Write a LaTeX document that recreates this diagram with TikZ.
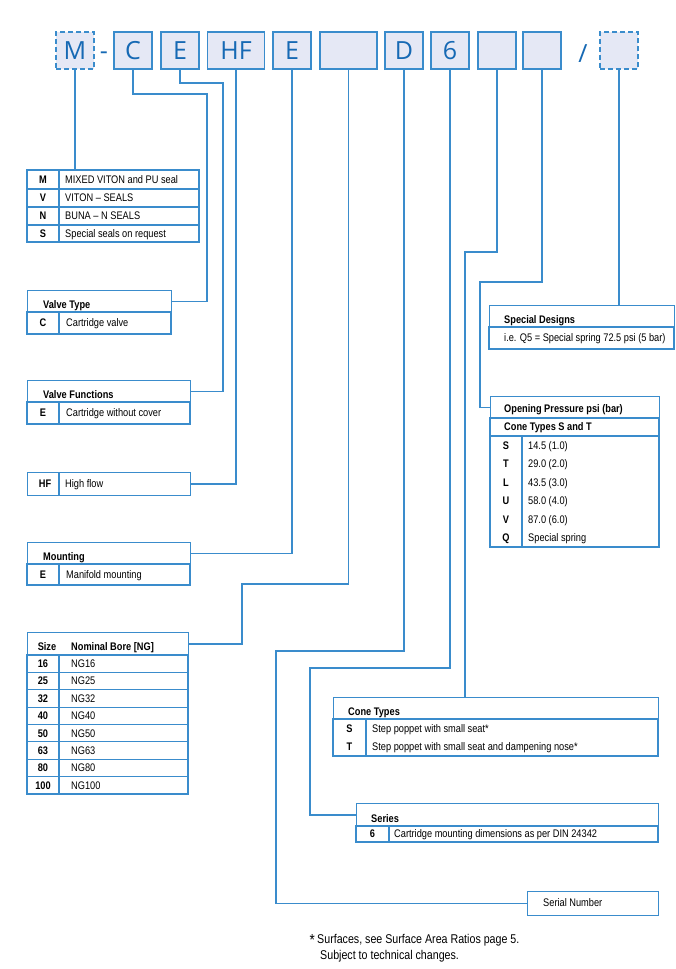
\documentclass[tikz,border=0pt]{standalone}
\usepackage{fontspec}
\setmainfont{Liberation Sans}
\newfontfamily\tabf[FakeStretch=0.84]{Liberation Sans}
\newfontfamily\codef{Open Sans}
\definecolor{lineblue}{RGB}{58,140,204}
\definecolor{boxfill}{RGB}{229,232,245}
\definecolor{codeblue}{RGB}{22,105,180}
\tikzset{
 conn/.style={draw=lineblue, line width=1.3pt},
 tab/.style={draw=lineblue, line width=1.2pt},
 code/.style={draw=lineblue, fill=boxfill, line width=1.1pt, minimum width=38pt, minimum height=37pt, inner sep=0pt, text=codeblue, font=\codef\fontsize{25}{25}\selectfont},
 codewide/.style={code, minimum width=57pt},
 codedash/.style={code, dash pattern=on 5pt off 3pt},
 codesep/.style={inner sep=0pt, anchor=base, text=codeblue, font=\codef\fontsize{25}{25}\selectfont},
 tabframe/.style={draw=lineblue, line width=1.2pt, inner sep=0pt, anchor=north west},
 keytxt/.style={inner sep=0pt, anchor=base, font=\tabf\bfseries\fontsize{11}{12}\selectfont},
 valtxt/.style={inner sep=0pt, anchor=base west, font=\tabf\fontsize{11}{12}\selectfont},
 hdrtxt/.style={inner sep=0pt, anchor=base west, font=\tabf\bfseries\fontsize{11}{12}\selectfont},
 foot/.style={inner sep=0pt, anchor=base west, font=\tabf\fontsize{12.7}{14}\selectfont},
}
\newcommand\trow[9]{%
 \draw[tab] (#2,#5) rectangle (#4,#6) (#3,#5) -- (#3,#6);
 \node[keytxt] (#1k) at ({(#2+#3)/2},{(#5+#6)/2+3.9}) {#7};
 \node[valtxt] (#1v) at (#9,{(#5+#6)/2+3.9}) {#8};}
\begin{document}
\begin{tikzpicture}[x=1pt,y=-1pt]
\fill[white] (0,0) rectangle (675,969);
\useasboundingbox (0,0) rectangle (675,969);

% code boxes
\node[codedash] (mB) at (75,50.5) {M};
\node[codesep] (hy) at (104,59.5) {-};
\node[code] (cB) at (133,50.5) {C};
\node[code] (eB) at (180,50.5) {E};
\node[codewide] (hfB) at (236,50.5) {HF};
\node[code] (e2B) at (292,50.5) {E};
\node[codewide] (bl1B) at (348.5,50.5) {};
\node[code] (dB) at (404,50.5) {D};
\node[code] (sixB) at (450,50.5) {6};
\node[code] (bl2B) at (497,50.5) {};
\node[code] (bl3B) at (542,50.5) {};
\node[codesep] (sl) at (583,62) {/};
\node[codedash] (dsB) at (619,50.5) {};

% seals
\node[tabframe, minimum width=172pt, minimum height=72pt] (seals) at (27,170) {};
\trow{sM}{27}{59}{199}{170}{189}{M}{MIXED VITON and PU seal}{65}
\trow{sV}{27}{59}{199}{189}{207}{V}{VITON – SEALS}{65}
\trow{sN}{27}{59}{199}{207}{225}{N}{BUNA – N SEALS}{65}
\trow{sS}{27}{59}{199}{225}{242}{S}{Special seals on request}{65}

% valve type
\node[tabframe, minimum width=144pt, minimum height=22pt] (vtH) at (27,290) {};
\node[hdrtxt] (vtHt) at (43,308) {Valve Type};
\trow{vtC}{27}{59}{171}{312}{334}{C}{Cartridge valve}{66}

% valve functions
\node[tabframe, minimum width=163pt, minimum height=22pt] (vfH) at (27,380) {};
\node[hdrtxt] (vfHt) at (43,398) {Valve Functions};
\trow{vfE}{27}{59}{190}{402}{424}{E}{Cartridge without cover}{66}

% HF
\node[tabframe, minimum width=163pt, minimum height=23pt] (hfT) at (27,472) {};
\draw[tab] (59,472) -- (59,495);
\node[keytxt] (hfk) at (45,487.4) {HF};
\node[valtxt] (hfv) at (65,487.4) {High flow};

% mounting
\node[tabframe, minimum width=163pt, minimum height=22pt] (mtH) at (27,542) {};
\node[hdrtxt] (mtHt) at (43,560) {Mounting};
\trow{mtE}{27}{59}{190}{564}{585}{E}{Manifold mounting}{66}

% size
\node[tabframe, minimum width=161pt, minimum height=23pt] (szH) at (27,632) {};
\node[keytxt] (szHk) at (47,650.5) {Size};
\node[hdrtxt] (szHt) at (71,650.5) {Nominal Bore [NG]};
\trow{z16}{27}{59}{188}{655}{672.375}{16}{NG16}{71}
\trow{z25}{27}{59}{188}{672.375}{689.75}{25}{NG25}{71}
\trow{z32}{27}{59}{188}{689.75}{707.125}{32}{NG32}{71}
\trow{z40}{27}{59}{188}{707.125}{724.5}{40}{NG40}{71}
\trow{z50}{27}{59}{188}{724.5}{741.875}{50}{NG50}{71}
\trow{z63}{27}{59}{188}{741.875}{759.25}{63}{NG63}{71}
\trow{z80}{27}{59}{188}{759.25}{776.625}{80}{NG80}{71}
\trow{z100}{27}{59}{188}{776.625}{794}{100}{NG100}{71}

% special designs
\node[tabframe, minimum width=185pt, minimum height=22pt] (spH) at (489,305) {};
\node[hdrtxt] (spHt) at (504,323) {Special Designs};
\draw[tab] (489,327) rectangle (674,349);
\node[valtxt] (spv) at (504,341.9) {i.e. Q5 = Special spring 72.5 psi (5 bar)};

% opening pressure
\node[tabframe, minimum width=169pt, minimum height=22pt] (opH) at (490,396) {};
\node[hdrtxt] (opHt) at (504,412) {Opening Pressure psi (bar)};
\draw[tab] (490,418) rectangle (659,436);
\node[hdrtxt] (opSt) at (504,430.9) {Cone Types S and T};
\draw[tab] (490,436) rectangle (659,547) (522,436) -- (522,547);
\node[keytxt] (opSk) at (506,449.15) {S}; \node[valtxt] (opSv) at (528,449.15) {14.5 (1.0)};
\node[keytxt] (opTk) at (506,467.65) {T}; \node[valtxt] (opTv) at (528,467.65) {29.0 (2.0)};
\node[keytxt] (opLk) at (506,486.15) {L}; \node[valtxt] (opLv) at (528,486.15) {43.5 (3.0)};
\node[keytxt] (opUk) at (506,504.65) {U}; \node[valtxt] (opUv) at (528,504.65) {58.0 (4.0)};
\node[keytxt] (opVk) at (506,523.15) {V}; \node[valtxt] (opVv) at (528,523.15) {87.0 (6.0)};
\node[keytxt] (opQk) at (506,541.65) {Q}; \node[valtxt] (opQv) at (528,541.65) {Special spring};

% cone types
\node[tabframe, minimum width=325pt, minimum height=22pt] (coH) at (333,697) {};
\node[hdrtxt] (coHt) at (348,715) {Cone Types};
\draw[tab] (333,719) rectangle (658,756) (366,719) -- (366,756);
\node[keytxt] (coSk) at (349.5,732.4) {S}; \node[valtxt] (coSv) at (372,732.4) {Step poppet with small seat*};
\node[keytxt] (coTk) at (349.5,750.4) {T}; \node[valtxt] (coTv) at (372,750.4) {Step poppet with small seat and dampening nose*};

% series
\node[tabframe, minimum width=302pt, minimum height=23pt] (seH) at (356,803) {};
\node[hdrtxt] (seHt) at (371,822) {Series};
\trow{se6}{356}{389}{658}{826}{842}{6}{Cartridge mounting dimensions as per DIN 24342}{394}

% serial
\node[tabframe, minimum width=131pt, minimum height=24pt] (serial) at (527,891) {};
\node[valtxt] (serialt) at (543,906.9) {Serial Number};

% footnote
\node[inner sep=0pt, anchor=base east, font=\tabf\fontsize{16}{16}\selectfont] (fstar) at (315,945) {*};
\node[foot] (f1) at (317,943) {Surfaces, see Surface Area Ratios page 5.};
\node[foot] (f2) at (320,959) {Subject to technical changes.};

% connectors
\coordinate (kC) at (207,94);
\coordinate (kE) at (223,83);
\coordinate (kS) at (242,584);
\coordinate (kSer) at (276,651);
\coordinate (kSeries) at (310,668);
\coordinate (kCone) at (465,252);
\coordinate (kOp) at (480,282);
\draw[conn] (mB.south) -- (mB.south |- seals.north);
\draw[conn] (cB.south) |- (kC) |- (vtH.east);
\draw[conn] (eB.south) |- (kE) |- (vfH.east);
\draw[conn] (hfB.south) |- (hfT.east);
\draw[conn] (e2B.south) |- (mtH.east);
\draw[conn] (bl1B.south) |- (kS) |- (szH.east);
\draw[conn] (dB.south) |- (kSer) |- (serial.west);
\draw[conn] (sixB.south) |- (kSeries) |- (seH.west);
\draw[conn] (bl2B.south) |- (kCone) -- (kCone |- coH.north);
\draw[conn] (bl3B.south) |- (kOp) |- (opH.west);
\draw[conn] (dsB.south) -- (dsB.south |- spH.north);
\end{tikzpicture}
\end{document}
